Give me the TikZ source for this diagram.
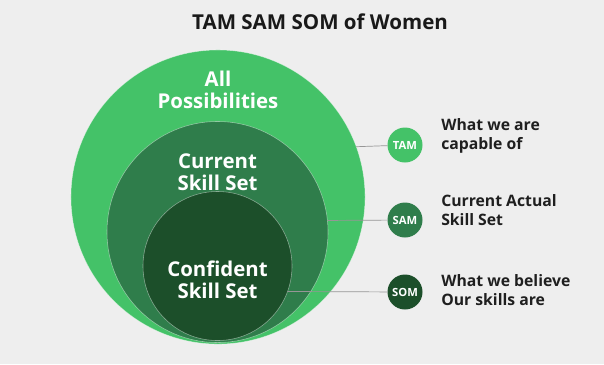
\documentclass[tikz,border=0pt]{standalone}
\usepackage{fontspec}
\setmainfont{Open Sans}
\usetikzlibrary{calc}
\definecolor{gbg}{RGB}{238,238,238}
\definecolor{glight}{RGB}{68,194,104}
\definecolor{gmid}{RGB}{47,125,75}
\definecolor{gdark}{RGB}{28,79,42}
\definecolor{gline}{RGB}{150,150,150}

\begin{document}
\begin{tikzpicture}[
  x=0.025cm, y=-0.025cm,
  ring/.style={circle, draw=white, draw opacity=0.45, line width=0.4pt, inner sep=0pt, outer sep=0pt},
  badge/.style={circle, inner sep=0pt, outer sep=0pt, minimum size=0.875cm, text=white, font=\fontsize{8}{9}\selectfont\bfseries},
  ringlab/.style={text=white, align=center, font=\fontsize{14.5}{16}\selectfont\bfseries},
  note/.style={anchor=west, align=left, inner sep=0pt, text=black!88, font=\fontsize{11.2}{13}\selectfont\bfseries},
  leader/.style={gline, line width=0.5pt},
]

% ---- background and frame
\fill[gbg] (0,0) rectangle (604,364);
\useasboundingbox (0,0) rectangle (604,364);

% ---- nested circles, all touching at the bottom
\node[ring, fill=glight, minimum size=7.35cm]  (outer) at (218,197)   {};
\node[ring, fill=gmid,   minimum size=5.525cm] (mid)   at (217.5,232) {};
\node[ring, fill=gdark,  minimum size=3.725cm] (inner) at (217.5,266) {};

\node[ringlab] (lall)  at (218,90)    {All\\Possibilities};
\node[ringlab] (lcur)  at (217.5,172) {Current\\Skill Set};
\node[ringlab] (lconf) at (217.5,280) {Confident\\Skill Set};

% ---- badges on the right
\node[badge, fill=glight] (tam) at (405,145) {TAM};
\node[badge, fill=gmid]   (sam) at (405,220) {SAM};
\node[badge, fill=gdark]  (som) at (405,292) {SOM};

% ---- leader lines
\draw[leader] (outer.20.7) -- (tam);
\draw[leader] (mid.6.2)    -- (sam);
\draw[leader] (inner.-20.4) -- (som);

% ---- notes
\node[note] (ntam) at (441,136) {What we are\\capable of};
\node[note] (nsam) at (441,210) {Current Actual\\Skill Set};
\node[note] (nsom) at (441,290) {What we believe\\Our skills are};

% ---- title
\node[font=\fontsize{14.6}{16}\selectfont\bfseries, text=black!90] (title) at (320,22) {TAM SAM SOM of Women};

\end{tikzpicture}
\end{document}
